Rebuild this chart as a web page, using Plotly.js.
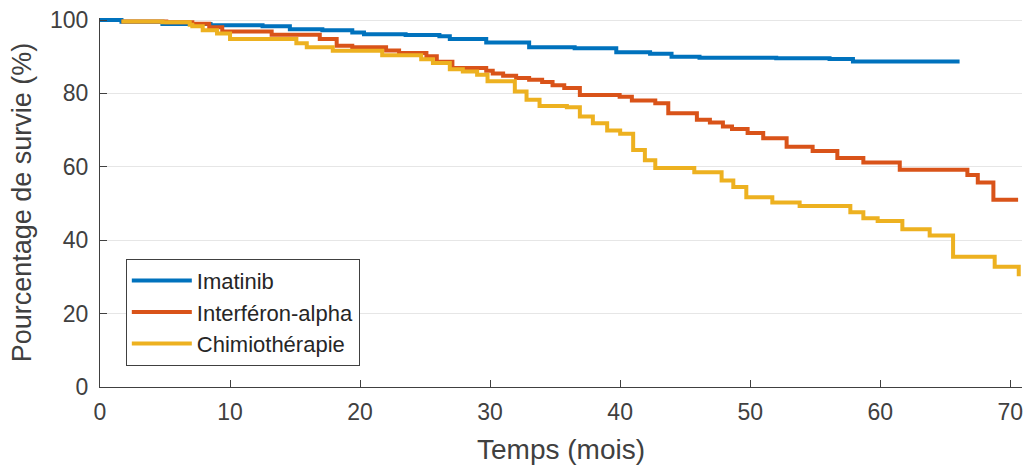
<!DOCTYPE html>
<html>
<head>
<meta charset="utf-8">
<script src="https://cdn.plot.ly/plotly-3.0.1.min.js"></script>
<style>html,body{margin:0;padding:0;background:#fff;}#chart{width:1027px;height:465px;}</style>
</head>
<body>
<div id="chart"></div>
<script>
// Imatinib
const imatinibT = [0, 1.65, 4.8, 8.5, 12.5, 14.6, 17.1, 19.4, 20.3, 23.5, 26.1, 26.9, 29.7, 33.0, 36.5, 39.7, 42.3, 43.95, 46.1, 52.0, 56.1, 57.9, 66.1];
const imatinibS = [100, 99.5, 98.9, 98.6, 98.3, 97.5, 97.2, 96.6, 96.1, 95.9, 95.6, 94.8, 93.9, 92.6, 92.3, 91.2, 90.8, 90.0, 89.7, 89.6, 89.4, 88.7, 88.7];
// Interféron-alpha
const interferonT = [1.65, 5.1, 7.1, 8.4, 9.4, 13.2, 16.9, 18.2, 19.4, 22.0, 23.0, 25.1, 25.9, 27.1, 29.7, 30.2, 31.0, 32.0, 33.0, 34.0, 34.8, 35.7, 36.9, 39.96, 40.9, 42.7, 43.7, 45.9, 46.9, 47.9, 48.6, 49.8, 51.0, 52.8, 54.8, 56.7, 58.7, 61.5, 66.7, 67.5, 68.7, 70.6];
const interferonS = [99.6, 99.4, 99.0, 98.0, 96.9, 96.0, 94.8, 93.0, 92.6, 91.7, 91.0, 90.1, 88.6, 86.9, 86.2, 85.4, 84.8, 84.2, 83.7, 83.1, 82.2, 81.5, 79.6, 79.1, 78.1, 77.3, 74.6, 72.8, 72.1, 71.0, 70.3, 69.2, 67.8, 65.5, 64.3, 62.4, 61.2, 59.2, 57.8, 55.7, 51.0, 51.0];
// Chimiothérapie
const chimioT = [1.65, 4.8, 6.9, 7.1, 7.9, 9.0, 10.0, 15.1, 15.9, 17.9, 21.7, 24.7, 25.6, 26.9, 27.9, 29.0, 29.8, 31.9, 32.8, 33.8, 35.9, 36.9, 37.9, 39.0, 40.0, 41.0, 41.9, 42.7, 45.7, 47.8, 48.7, 49.7, 51.7, 53.8, 57.7, 58.7, 59.8, 61.7, 63.8, 65.6, 68.8, 70.65];
const chimioS = [99.6, 99.4, 98.7, 98.3, 97.2, 96.3, 94.8, 93.7, 92.6, 91.6, 90.4, 89.3, 88.3, 86.6, 86.0, 85.1, 83.3, 80.5, 78.3, 76.6, 76.2, 73.7, 71.9, 69.9, 69.0, 64.6, 61.8, 59.7, 58.5, 56.3, 54.5, 51.7, 50.3, 49.3, 47.6, 46.0, 45.2, 43.0, 41.3, 35.5, 32.8, 30.2];

const seriesNames = ['Imatinib', 'Interféron-alpha', 'Chimiothérapie'];
const xTicks = [0, 10, 20, 30, 40, 50, 60, 70];
const yTicks = [0, 20, 40, 60, 80, 100];

const colors = ['#0072BD', '#D95319', '#EDB120'];
const font = 'Liberation Sans, Arial, Helvetica, sans-serif';
const txt = '#404040';

const data = [
  {x: imatinibT, y: imatinibS},
  {x: interferonT, y: interferonS},
  {x: chimioT, y: chimioS}
].map((d, i) => ({
  x: d.x, y: d.y, type: 'scatter', mode: 'lines', name: seriesNames[i],
  line: {shape: 'hv', color: colors[i], width: 4}
}));

const layout = {
  width: 1027, height: 465,
  margin: {l: 100, r: 5, t: 18, b: 78},
  paper_bgcolor: '#fff', plot_bgcolor: '#fff',
  font: {family: font, color: txt},
  showlegend: true,
  legend: {
    x: 0.028, y: 0.348, xanchor: 'left', yanchor: 'top',
    bgcolor: '#fff', bordercolor: '#404040', borderwidth: 1,
    font: {family: font, size: 22, color: '#262626'},
    itemwidth: 60, tracegroupgap: 0
  },
  xaxis: {
    range: [0, 70.9], tickvals: xTicks, ticktext: xTicks.map(String),
    ticks: 'inside', ticklen: 7, tickcolor: '#404040', tickwidth: 1,
    showline: true, linecolor: '#404040', linewidth: 1, showgrid: false, zeroline: false,
    tickfont: {family: font, size: 23, color: txt}, ticklabelstandoff: 4,
    title: {text: 'Temps (mois)', font: {family: font, size: 28, color: txt}, standoff: 18}
  },
  yaxis: {
    range: [0, 100.55], tickvals: yTicks, ticktext: yTicks.map(String),
    ticks: 'inside', ticklen: 7, tickcolor: '#404040', tickwidth: 1,
    showline: true, linecolor: '#404040', linewidth: 1,
    showgrid: true, gridcolor: '#e6e6e6', gridwidth: 1, zeroline: false,
    tickfont: {family: font, size: 23, color: txt}, ticklabelstandoff: 6,
    title: {text: 'Pourcentage de survie (%)', font: {family: font, size: 27, color: txt}, standoff: 10}
  }
};

Plotly.newPlot('chart', data, layout, {displayModeBar: false, staticPlot: true});
</script>
</body>
</html>
